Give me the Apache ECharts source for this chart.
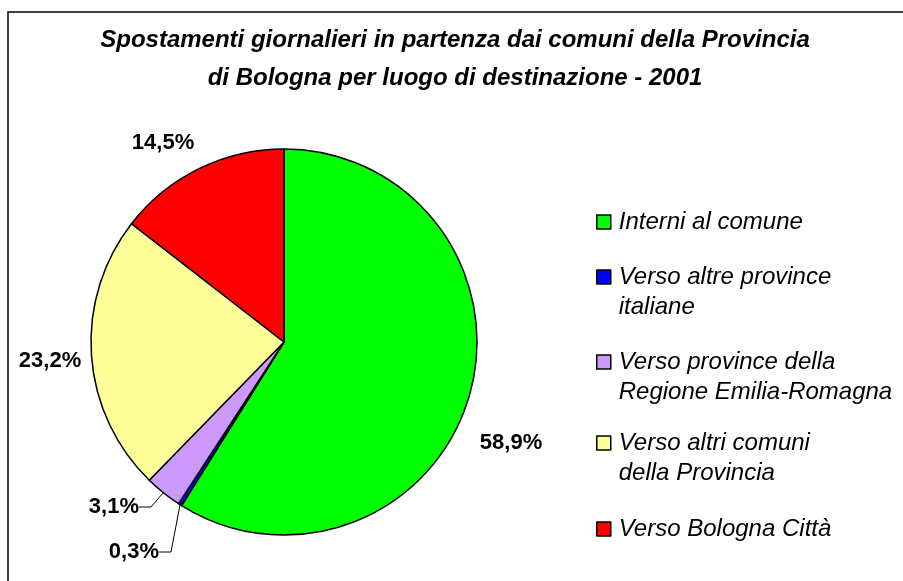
<!DOCTYPE html>
<html>
<head>
<meta charset="utf-8">
<script src="https://cdn.jsdelivr.net/npm/echarts@6/dist/echarts.min.js"></script>
<style>
  html, body { margin: 0; padding: 0; background: #fff; }
  #chart { width: 903px; height: 581px; }
</style>
</head>
<body>
<div id="chart"></div>
<script>
const categories = [
    "Interni al comune",
    "Verso altre province\nitaliane",
    "Verso province della\nRegione Emilia-Romagna",
    "Verso altri comuni\ndella Provincia",
    "Verso Bologna Città"
];
const shares = [58.9, 0.3, 3.1, 23.2, 14.5];
const sliceColors = ["#00ff00", "#0000ff", "#cc99ff", "#ffff99", "#ff0000"];
const titleLines = [
    "Spostamenti giornalieri in partenza dai comuni della Provincia",
    "di Bologna per luogo di destinazione - 2001"
];

const font = "Arial, 'Liberation Sans', sans-serif";
const lineH = 30;

// where each percentage label sits (centre / anchor), tuned to the reference
const labelSpots = [
    { x: 511, y: 443, align: "center" },
    { x: 159, y: 552, align: "right" },
    { x: 139, y: 507, align: "right" },
    { x: 50, y: 361, align: "center" },
    { x: 163, y: 143, align: "center" }
];

// legend icon centres (y)
const legendY = [222, 277, 362, 443, 529];

const chart = echarts.init(document.getElementById("chart"), null, { renderer: "canvas" });

const legends = categories.map((name, i) => {
    const twoLines = name.indexOf("\n") >= 0;
    return {
        data: [name],
        left: 596,
        top: legendY[i] - (twoLines ? 1.5 * lineH : 0.5 * lineH),
        icon: "rect",
        itemWidth: 14,
        itemHeight: 14,
        itemGap: 0,
        padding: 0,
        selectedMode: false,
        // empty leading line keeps the icon level with the first text line
        formatter: (n) => (twoLines ? "\n" + n : n),
        itemStyle: { borderColor: "#000", borderWidth: 1.5 },
        textStyle: {
            fontFamily: font,
            fontStyle: "italic",
            fontSize: 24,
            color: "#000",
            lineHeight: lineH,
            padding: [0, 0, 0, 3]
        }
    };
});

const option = {
    animation: false,
    backgroundColor: "#fff",
    title: {
        text: titleLines.join("\n"),
        left: 450,
        textAlign: "center",
        top: 16,
        textStyle: {
            fontFamily: font,
            fontStyle: "italic",
            fontWeight: "bold",
            fontSize: 24,
            lineHeight: 38,
            color: "#000"
        }
    },
    legend: legends,
    graphic: [{
        type: "rect",
        shape: { x: 8, y: 12, width: 930, height: 600 },
        style: { fill: null, stroke: "#000", lineWidth: 1.5 },
        silent: true
    }],
    series: [{
        type: "pie",
        center: [284, 342],
        radius: 193,
        startAngle: 90,
        clockwise: true,
        avoidLabelOverlap: false,
        itemStyle: { borderColor: "#000", borderWidth: 1.5 },
        label: {
            show: true,
            position: "outside",
            fontFamily: font,
            fontWeight: "bold",
            fontSize: 22,
            color: "#000",
            formatter: (p) => p.value.toFixed(1).replace(".", ",") + "%"
        },
        labelLine: { show: false },
        labelLayout: (params) => {
            const s = labelSpots[params.dataIndex];
            return { x: s.x, y: s.y, align: s.align, verticalAlign: "middle", hideOverlap: false, moveOverlap: false };
        },
        data: categories.map((name, i) => ({
            name: name,
            value: shares[i],
            itemStyle: { color: sliceColors[i] },
            labelLine: (i === 1 || i === 2)
                ? { show: true, length: 10, length2: 12, lineStyle: { color: "#000", width: 1 } }
                : { show: false }
        }))
    }]
};

chart.setOption(option);
</script>
</body>
</html>
